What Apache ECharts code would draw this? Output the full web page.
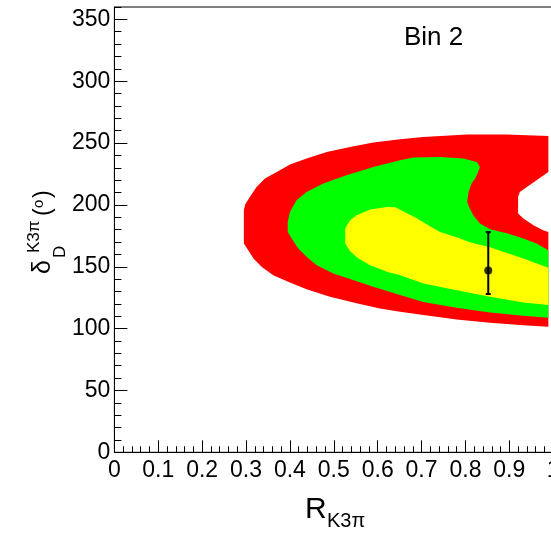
<!DOCTYPE html>
<html>
<head>
<meta charset="utf-8">
<script src="https://cdn.jsdelivr.net/npm/echarts@6/dist/echarts.min.js"></script>
<style>
  html, body { margin: 0; padding: 0; background: #ffffff; }
  #chart { width: 551px; height: 538px; }
</style>
</head>
<body>
<div id="chart"></div>
<script>
// Confidence regions in the (R_K3pi, delta_D) plane, drawn outer to inner.
// Each region is a closed boundary given as R values and delta values (degrees).
const redR = [0.989, 0.894, 0.803, 0.704, 0.651, 0.590, 0.537, 0.484, 0.438, 0.400,
              0.370, 0.343, 0.324, 0.309, 0.298, 0.295, 0.295, 0.305, 0.317, 0.336,
              0.362, 0.400, 0.438, 0.491, 0.552, 0.605, 0.651, 0.704, 0.780, 0.856,
              0.932, 0.989, 0.989, 0.977, 0.955, 0.932, 0.920, 0.920, 0.924, 0.940,
              0.962, 0.989];
const redDelta = [255.7, 256.9, 256.9, 254.9, 253.1, 250.4, 246.8, 242.8, 237.5, 232.6,
                  226.7, 221.3, 214.5, 206.5, 200.3, 195.7, 168.8, 163.4, 156.7, 149.9,
                  143.2, 137.3, 131.9, 125.7, 120.4, 116.3, 113.7, 110.9, 107.4, 104.7,
                  102.8, 101.5, 178.2, 179.6, 183.6, 189.0, 193.1, 206.5, 210.5, 214.5,
                  220.0, 226.7];

const greenR = [0.395, 0.400, 0.415, 0.438, 0.476, 0.529, 0.590, 0.651, 0.681, 0.742,
                0.795, 0.826, 0.833, 0.829, 0.822, 0.814, 0.807, 0.804, 0.810, 0.818,
                0.833, 0.856, 0.894, 0.932, 0.962, 0.989, 0.989, 0.932, 0.856, 0.780,
                0.704, 0.651, 0.590, 0.544, 0.499, 0.461, 0.438, 0.419, 0.404, 0.395];
const greenDelta = [186.3, 194.3, 203.8, 210.5, 217.3, 224.0, 230.7, 236.1, 238.3, 238.8,
                    237.5, 234.7, 230.7, 226.7, 221.3, 217.3, 210.5, 202.4, 197.1, 191.7,
                    185.0, 180.4, 177.1, 172.9, 168.8, 163.4, 108.7, 110.3, 113.1, 116.8,
                    121.6, 127.1, 133.8, 139.2, 144.6, 151.3, 158.0, 164.8, 172.9, 178.2];

const yellowR = [0.526, 0.537, 0.552, 0.583, 0.621, 0.640, 0.658, 0.689, 0.719, 0.742,
                 0.780, 0.810, 0.856, 0.932, 0.989, 0.989, 0.932, 0.856, 0.780, 0.704,
                 0.651, 0.621, 0.583, 0.556, 0.537, 0.526];
const yellowDelta = [180.9, 187.6, 191.7, 196.3, 198.4, 198.1, 194.9, 189.3, 182.8, 178.0,
                     173.9, 169.9, 165.8, 156.7, 149.1, 119.0, 121.2, 125.7, 131.1, 136.5,
                     143.2, 145.9, 151.3, 156.7, 162.6, 168.8];

// Best-fit point with asymmetric uncertainty on delta_D
const bestR = [0.852];
const bestDelta = [147];
const bestErrUp = [31];
const bestErrDown = [19];

const FONT = '"Liberation Sans", Arial, Helvetica, sans-serif';

function regionSeries(name, rs, ds, color, z) {
  return {
    type: 'custom',
    name: name,
    silent: true,
    clip: true,
    z: z,
    data: [[rs[0], ds[0]]],
    renderItem: function (params, api) {
      return {
        type: 'polygon',
        shape: { points: rs.map(function (r, i) { return api.coord([r, ds[i]]); }) },
        style: { fill: color, lineWidth: 0 }
      };
    }
  };
}

const chart = echarts.init(document.getElementById('chart'), null, { renderer: 'canvas' });

const option = {
  animation: false,
  backgroundColor: '#ffffff',
  grid: {
    left: 114.4, top: 7, width: 438.8, height: 445.3,
    containLabel: false, outerBoundsMode: 'none',
    show: true, borderColor: '#000', borderWidth: 1, backgroundColor: 'transparent'
  },
  xAxis: [{
    type: 'value', min: 0, max: 1, interval: 0.1,
    axisLine: { show: true, lineStyle: { color: '#000', width: 1 } },
    axisTick: { show: true, inside: true, length: 12, lineStyle: { color: '#000', width: 1 } },
    minorTick: { show: true, splitNumber: 5, length: 6, lineStyle: { color: '#000', width: 1 } },
    axisLabel: { fontSize: 23, color: '#000', fontFamily: FONT, margin: 7 },
    splitLine: { show: false }
  }],
  yAxis: [{
    type: 'value', min: 0, max: 360, interval: 50,
    axisLine: { show: true, lineStyle: { color: '#000', width: 1 } },
    axisTick: { show: true, inside: true, length: 13, lineStyle: { color: '#000', width: 1 } },
    axisLabel: { fontSize: 23, color: '#000', fontFamily: FONT, margin: 4, showMaxLabel: false },
    splitLine: { show: false }
  }, {
    type: 'value', min: 0, max: 360, interval: 10, position: 'left',
    axisLine: { show: false },
    axisTick: { show: true, inside: true, length: 7, lineStyle: { color: '#000', width: 1 } },
    axisLabel: { show: false },
    splitLine: { show: false }
  }],
  series: [
    regionSeries('3 sigma', redR, redDelta, '#ff0000', 1),
    regionSeries('2 sigma', greenR, greenDelta, '#00ff00', 2),
    regionSeries('1 sigma', yellowR, yellowDelta, '#ffff00', 3),
    {
      type: 'custom',
      name: 'uncertainty',
      silent: true,
      z: 4,
      data: bestR.map(function (r, i) {
        return [r, bestDelta[i], bestDelta[i] + bestErrUp[i], bestDelta[i] - bestErrDown[i]];
      }),
      encode: { x: 0, y: 1 },
      renderItem: function (params, api) {
        const top = api.coord([api.value(0), api.value(2)]);
        const bot = api.coord([api.value(0), api.value(3)]);
        const hw = 2.5;
        const st = { stroke: '#000', lineWidth: 2 };
        return {
          type: 'group',
          children: [
            { type: 'line', shape: { x1: top[0], y1: top[1], x2: bot[0], y2: bot[1] }, style: st },
            { type: 'line', shape: { x1: top[0] - hw, y1: top[1], x2: top[0] + hw, y2: top[1] }, style: st },
            { type: 'line', shape: { x1: bot[0] - hw, y1: bot[1], x2: bot[0] + hw, y2: bot[1] }, style: st }
          ]
        };
      }
    },
    {
      type: 'scatter',
      name: 'best fit',
      silent: true,
      z: 5,
      symbol: 'circle',
      symbolSize: 8,
      itemStyle: { color: '#000' },
      data: bestR.map(function (r, i) { return [r, bestDelta[i]]; })
    }
  ],
  graphic: [
    {
      type: 'text', x: 404, y: 38,
      style: { text: 'Bin 2', font: '26px ' + FONT, fill: '#000', textVerticalAlign: 'middle' }
    },
    {
      // x-axis title: R with subscript K3pi
      type: 'group', x: 0, y: 0,
      children: [
        { type: 'text', x: 305, y: 510,
          style: { text: 'R', font: '30px ' + FONT, fill: '#000', textVerticalAlign: 'middle' } },
        { type: 'text', x: 327, y: 521,
          style: { text: 'K3π', font: '20px ' + FONT, fill: '#000', textVerticalAlign: 'middle' } }
      ]
    },
    {
      // y-axis title: delta_D^{K3pi} (deg), reading bottom to top
      type: 'group', x: 0, y: 275, rotation: Math.PI / 2,
      children: [
        { type: 'text', x: 1, y: 43,
          style: { text: 'δ', font: '25px ' + FONT, fill: '#000', textVerticalAlign: 'middle' } },
        { type: 'text', x: 17, y: 60,
          style: { text: 'D', font: '17px ' + FONT, fill: '#000', textVerticalAlign: 'middle' } },
        { type: 'text', x: 22, y: 34,
          style: { text: 'K3π', font: '17px ' + FONT, fill: '#000', textVerticalAlign: 'middle' } },
        { type: 'text', x: 59, y: 44,
          style: { text: '(', font: '23px ' + FONT, fill: '#000', textVerticalAlign: 'middle' } },
        { type: 'text', x: 67, y: 39,
          style: { text: 'o', font: '15px ' + FONT, fill: '#000', textVerticalAlign: 'middle' } },
        { type: 'text', x: 77, y: 44,
          style: { text: ')', font: '23px ' + FONT, fill: '#000', textVerticalAlign: 'middle' } }
      ]
    }
  ]
};

chart.setOption(option);
</script>
</body>
</html>
